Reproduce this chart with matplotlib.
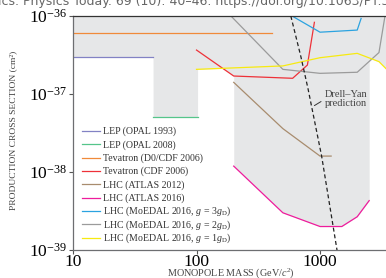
import numpy as np
import matplotlib
matplotlib.use("Agg")
import matplotlib.pyplot as plt
from matplotlib.lines import Line2D

plt.rcParams["font.family"] = ["Liberation Serif", "DejaVu Serif"]
plt.rcParams["mathtext.fontset"] = "custom"
plt.rcParams["mathtext.rm"] = "Liberation Serif"
plt.rcParams["mathtext.it"] = "Liberation Serif:italic"
plt.rcParams["mathtext.bf"] = "Liberation Serif:bold"

# limits: mass (GeV/c^2), cross section (cm^2)
lep93_m = [10, 44.5]
lep93_s = [3.0e-37, 3.0e-37]
opal08_m = [44.5, 102]
opal08_s = [5.0e-38, 5.0e-38]
tev_m = [10, 406]
tev_s = [6.0e-37, 6.0e-37]
cdf_m = [100, 200, 600, 790, 900]
cdf_s = [3.66e-37, 1.70e-37, 1.59e-37, 2.35e-37, 8.3e-37]
atlas12_m = [200, 500, 1000, 1230]
atlas12_s = [1.41e-37, 3.6e-38, 1.6e-38, 1.6e-38]
atlas16_m = [200, 500, 1000, 1500, 2000, 2500]
atlas16_s = [1.19e-38, 3.0e-39, 2.0e-39, 2.0e-39, 2.67e-39, 4.3e-39]
moedal3_m = [500, 1000, 2000, 2150]
moedal3_s = [1.17e-36, 6.2e-37, 6.6e-37, 9.3e-37]
moedal2_m = [190, 500, 1000, 2000, 3000, 3500]
moedal2_s = [1.0e-36, 2.07e-37, 1.84e-37, 1.9e-37, 3.4e-37, 1.5e-36]
moedal1_m = [100, 500, 1000, 2000, 3000, 4000]
moedal1_s = [2.07e-37, 2.29e-37, 2.92e-37, 3.32e-37, 2.6e-37, 1.65e-37]
dy_m = [580, 700, 800, 1030, 1365, 1420]
dy_s = [1.0e-36, 3.0e-37, 1.16e-37, 1.6e-38, 1.05e-39, 7e-40]

curves = [
    ("LEP (OPAL 1993)", lep93_m, lep93_s, "#8282c4"),
    ("LEP (OPAL 2008)", opal08_m, opal08_s, "#55c58a"),
    ("Tevatron (D0/CDF 2006)", tev_m, tev_s, "#f08a3a"),
    ("Tevatron (CDF 2006)", cdf_m, cdf_s, "#ee3138"),
    ("LHC (ATLAS 2012)", atlas12_m, atlas12_s, "#a88c6e"),
    ("LHC (ATLAS 2016)", atlas16_m, atlas16_s, "#ee1c9c"),
    ("LHC (MoEDAL 2016, $g$ = 3$g_\\mathrm{D}$)", moedal3_m, moedal3_s, "#2ba3e0"),
    ("LHC (MoEDAL 2016, $g$ = 2$g_\\mathrm{D}$)", moedal2_m, moedal2_s, "#9b9b9b"),
    ("LHC (MoEDAL 2016, $g$ = 1$g_\\mathrm{D}$)", moedal1_m, moedal1_s, "#f7ea10"),
]

xmin, xmax = 10, 3420
ymin, ymax = 1e-39, 1e-36
W, H = 386, 278

fig = plt.figure(figsize=(W / 100, H / 100), dpi=100)
ax = fig.add_axes([73 / W, 28 / H, 1 - 73 / W, 234 / H])
ax.set_xscale("log")
ax.set_yscale("log")
ax.set_xlim(xmin, xmax)
ax.set_ylim(ymin, ymax)

# excluded region = everything above the strongest limit at each mass
grid = np.logspace(np.log10(xmin), np.log10(xmax), 6000)
env = np.full(grid.shape, np.nan)
for _, m, s, _ in curves:
    lm, ls = np.log10(m), np.log10(s)
    vals = np.interp(np.log10(grid), lm, ls, left=np.nan, right=np.nan)
    env = np.fmin(env, vals)
has = ~np.isnan(env)
low = np.where(has, 10 ** np.nan_to_num(env, nan=-36.0), ymax)
ax.fill_between(grid, np.minimum(low, ymax), ymax, where=has,
                color="#e6e7e8", lw=0, zorder=0)

for label, m, s, c in curves:
    ax.plot(m, s, color=c, lw=0.9, zorder=2)

ax.plot(dy_m, dy_s, color="#222222", lw=0.9, dashes=(3.2, 2.2), zorder=3)
ax.annotate("Drell–Yan\nprediction", xy=(900, 7.1e-38), xytext=(1097, 8.6e-38),
            ha="left", va="center", fontsize=7.5, color="#444444",
            linespacing=0.95,
            arrowprops=dict(arrowstyle="-", lw=0.7, color="#333333",
                            relpos=(0, 0.5), shrinkA=1, shrinkB=0))

# legend, evenly spaced rows (mathtext rows would otherwise be taller)
row0, pitch = 131.0, 13.33
for i, (label, _, _, c) in enumerate(curves):
    yc = row0 + i * pitch
    fig.add_artist(Line2D([81.5 / W, 100.5 / W], [1 - yc / H, 1 - yc / H],
                          color=c, lw=0.9, transform=fig.transFigure))
    fig.text(103 / W, 1 - (yc + 3.2) / H, label, fontsize=7.1,
             color="#333333", va="baseline", ha="left")

ax.set_xticks([10, 100, 1000])
ax.set_xticklabels(["10", "100", "1000"])
ax.set_yticks([1e-39, 1e-38, 1e-37, 1e-36])
ax.set_yticklabels(["10$^{-39}$", "10$^{-38}$", "10$^{-37}$", "10$^{-36}$"])
ax.minorticks_off()
ax.tick_params(axis="both", which="major", direction="out", length=3,
               width=0.8, color="#555555", labelsize=12.5, pad=1)
ax.tick_params(axis="x", pad=0)

for side in ["left", "bottom"]:
    ax.spines[side].set_color("#6d6e71")
    ax.spines[side].set_linewidth(0.9)
ax.spines["top"].set_color("#333333")
ax.spines["top"].set_linewidth(0.9)
ax.spines["right"].set_visible(False)

fig.text(13 / W, 1 - 130.5 / H, "PRODUCTION CROSS SECTION (cm²)",
         rotation=90, ha="center", va="center", fontsize=6.8, color="#444444")
fig.text(230.5 / W, 1 - 273.5 / H, "MONOPOLE MASS (GeV/$c^2$)",
         ha="center", va="center", fontsize=7.3, color="#444444")

fig.text(-2 / W, 1 - 5 / H,
         "ics. Physics Today. 69 (10): 40–46. https://doi.org/10.1063/PT.3.3328",
         family="DejaVu Sans", fontsize=9, color="#666666", va="baseline")

fig.savefig("out.png", dpi=100)
